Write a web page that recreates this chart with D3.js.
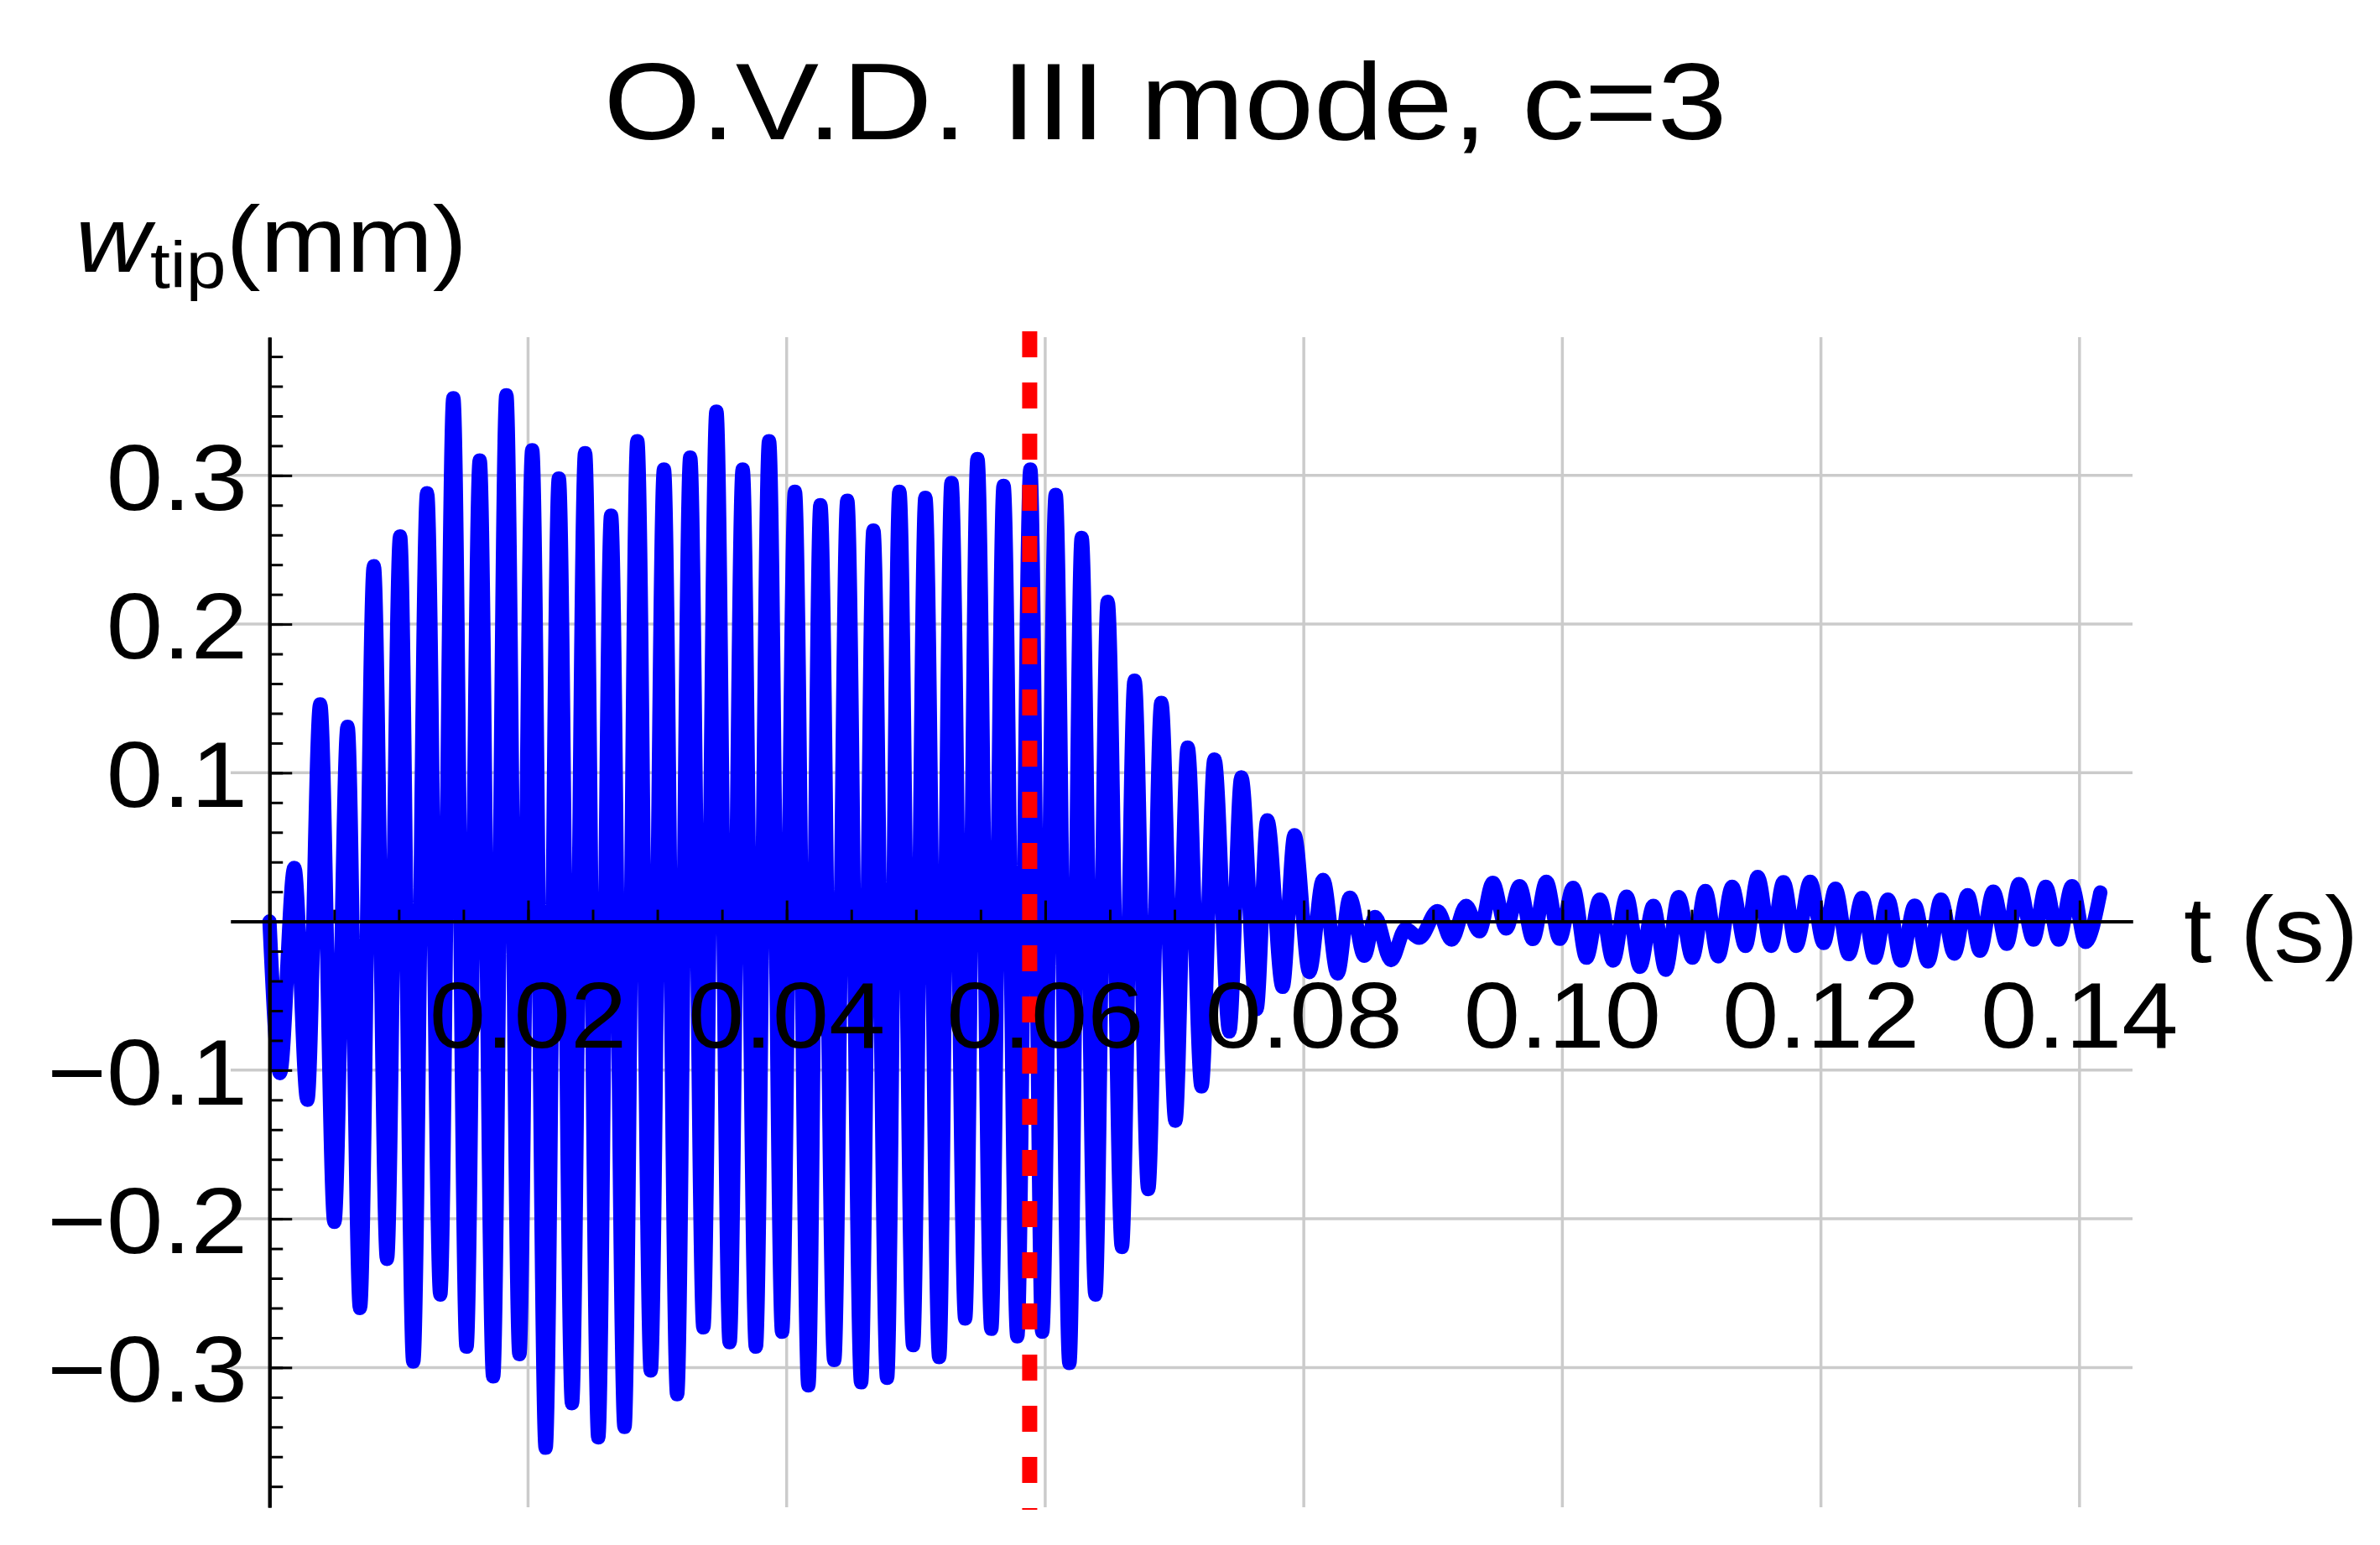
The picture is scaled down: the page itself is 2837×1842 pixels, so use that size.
<!DOCTYPE html>
<html>
<head>
<meta charset="utf-8">
<script src="https://cdn.jsdelivr.net/npm/d3@7"></script>
<style>
  body { margin: 0; background: #fff; }
  text { font-family: "Liberation Sans", Arial, sans-serif; fill: #000; }
</style>
</head>
<body>
<div id="main"></div>
<script>
const title = "O.V.D. III mode, c=3";
const xTicks = [0.02, 0.04, 0.06, 0.08, 0.10, 0.12, 0.14];
const xTickLabels = ["0.02", "0.04", "0.06", "0.08", "0.10", "0.12", "0.14"];
const yTicks = [-0.3, -0.2, -0.1, 0.1, 0.2, 0.3];
const yTickLabels = ["\u22120.3", "\u22120.2", "\u22120.1", "0.1", "0.2", "0.3"];
const switchTime = 0.0588; // red dashed marker

// tip deflection: [t (s), w (mm)]
const wTip = [
  [0, 0], [0.00081, -0.102], [0.00192, 0.036], [0.00293, -0.120], [0.00392, 0.146],
  [0.00502, -0.202], [0.00604, 0.131], [0.00700, -0.260], [0.00807, 0.239], [0.00909, -0.227],
  [0.01010, 0.259], [0.01112, -0.296], [0.01219, 0.288], [0.01321, -0.251], [0.01422, 0.352],
  [0.01524, -0.286], [0.01626, 0.310], [0.01730, -0.306], [0.01832, 0.354], [0.01933, -0.291],
  [0.02032, 0.317], [0.02136, -0.354], [0.02238, 0.298], [0.02340, -0.324], [0.02441, 0.315],
  [0.02543, -0.347], [0.02642, 0.273], [0.02746, -0.340], [0.02845, 0.323], [0.02949, -0.302],
  [0.03051, 0.304], [0.03153, -0.318], [0.03254, 0.312], [0.03356, -0.273], [0.03457, 0.343],
  [0.03559, -0.283], [0.03660, 0.304], [0.03762, -0.286], [0.03864, 0.323], [0.03965, -0.276],
  [0.04064, 0.289], [0.04168, -0.312], [0.04261, 0.280], [0.04368, -0.295], [0.04469, 0.283],
  [0.04576, -0.310], [0.04671, 0.263], [0.04777, -0.307], [0.04872, 0.289], [0.04978, -0.285],
  [0.05073, 0.285], [0.05180, -0.293], [0.05275, 0.295], [0.05381, -0.267], [0.05476, 0.311],
  [0.05583, -0.274], [0.05678, 0.293], [0.05784, -0.279], [0.05885, 0.304], [0.05977, -0.276],
  [0.06081, 0.287], [0.06187, -0.297], [0.06282, 0.258], [0.06388, -0.251], [0.06483, 0.215],
  [0.06593, -0.219], [0.06691, 0.162], [0.06797, -0.180], [0.06898, 0.147], [0.07007, -0.134],
  [0.07102, 0.117], [0.07209, -0.111], [0.07309, 0.109], [0.07424, -0.074], [0.07517, 0.097],
  [0.07634, -0.059], [0.07718, 0.068], [0.07836, -0.044], [0.07928, 0.058], [0.08043, -0.034],
  [0.08149, 0.028], [0.08261, -0.035], [0.08356, 0.016], [0.08468, -0.023], [0.08551, 0.003],
  [0.08675, -0.026], [0.08787, -0.005], [0.08894, -0.011], [0.09035, 0.007], [0.09143, -0.0122],
  [0.09255, 0.0105], [0.09358, -0.0066], [0.09462, 0.026], [0.09565, -0.0047], [0.09669, 0.0237],
  [0.09772, -0.0118], [0.09876, 0.0267], [0.09979, -0.0117], [0.10083, 0.0227], [0.10186, -0.0244],
  [0.10290, 0.0148], [0.10393, -0.0263], [0.10497, 0.0167], [0.10600, -0.0305], [0.10704, 0.0105],
  [0.10799, -0.0325], [0.10899, 0.0164], [0.11006, -0.0244], [0.11106, 0.0205], [0.11205, -0.0235],
  [0.11313, 0.0233], [0.11416, -0.0164], [0.11511, 0.0299], [0.11615, -0.0164], [0.11710, 0.0265],
  [0.11809, -0.0164], [0.11917, 0.0267], [0.12021, -0.0145], [0.12112, 0.022], [0.12215, -0.022],
  [0.12319, 0.0158], [0.12414, -0.0244], [0.12518, 0.0148], [0.12621, -0.0263], [0.12725, 0.0107],
  [0.12828, -0.0269], [0.12928, 0.0148], [0.13031, -0.0216], [0.13135, 0.0177], [0.13230, -0.0197],
  [0.13333, 0.0201], [0.13437, -0.015], [0.13532, 0.0252], [0.13644, -0.0122], [0.13739, 0.0233],
  [0.13839, -0.0122], [0.13942, 0.0237], [0.14046, -0.0137], [0.14161, 0.0195]
];

const width = 2837, height = 1842;
const fontSize = 112, stretch = 1.08;

const svg = d3.select("#main").append("svg")
  .attr("width", width)
  .attr("height", height);

const x = d3.scaleLinear().domain([-0.003, 0.1441]).range([275, 2542]);
const y = d3.scaleLinear().domain([-0.394, 0.393]).range([1797, 402]);

// grid
const grid = svg.append("g")
  .attr("stroke", "#cbcbcb")
  .attr("stroke-width", 3.5);
grid.selectAll(".gx").data(xTicks).enter().append("line")
  .attr("x1", d => x(d)).attr("x2", d => x(d))
  .attr("y1", y.range()[1]).attr("y2", y.range()[0]);
grid.selectAll(".gy").data(yTicks).enter().append("line")
  .attr("y1", d => y(d)).attr("y2", d => y(d))
  .attr("x1", x.range()[0]).attr("x2", x.range()[1]);

// signal
const line = d3.line()
  .x(d => x(d[0]))
  .y(d => y(d[1]))
  .curve(d3.curveMonotoneX);

svg.append("path")
  .datum(wTip)
  .attr("d", line)
  .attr("fill", "none")
  .attr("stroke", "#0000ff")
  .attr("stroke-width", 17)
  .attr("stroke-linejoin", "round")
  .attr("stroke-linecap", "round");

// axes
function styleAxis(g, w) {
  g.select(".domain").attr("stroke", "#000").attr("stroke-width", 4);
  g.selectAll(".tick line").attr("stroke", "#000").attr("stroke-width", w);
  g.selectAll(".tick text").remove();
}

svg.append("g")
  .attr("transform", `translate(0,${y(0)})`)
  .call(d3.axisTop(x).tickValues(d3.range(0.005, 0.1441, 0.005)).tickSize(14).tickSizeOuter(0))
  .call(g => styleAxis(g, 3));
svg.append("g")
  .attr("transform", `translate(0,${y(0)})`)
  .call(d3.axisTop(x).tickValues(xTicks).tickSize(25).tickSizeOuter(0))
  .call(g => styleAxis(g, 3));

svg.append("g")
  .attr("transform", `translate(${x(0)},0)`)
  .call(d3.axisRight(y).tickValues(d3.range(-0.38, 0.381, 0.02)).tickSize(16).tickSizeOuter(0))
  .call(g => styleAxis(g, 3));
svg.append("g")
  .attr("transform", `translate(${x(0)},0)`)
  .call(d3.axisRight(y).tickValues(yTicks).tickSize(27).tickSizeOuter(0))
  .call(g => styleAxis(g, 3));

// red dashed marker
svg.append("line")
  .attr("x1", x(switchTime)).attr("x2", x(switchTime))
  .attr("y1", 395).attr("y2", 1800)
  .attr("stroke", "#ff0000")
  .attr("stroke-width", 18)
  .attr("stroke-dasharray", "31 30");

// tick labels
svg.selectAll(".xl").data(xTicks).enter().append("text")
  .attr("transform", d => `translate(${x(d)},1249) scale(${stretch},1)`)
  .attr("text-anchor", "middle")
  .attr("font-size", fontSize)
  .text((d, i) => xTickLabels[i]);

svg.selectAll(".yl").data(yTicks).enter().append("text")
  .attr("transform", d => `translate(295,${y(d) + 41}) scale(${stretch},1)`)
  .attr("text-anchor", "end")
  .attr("font-size", fontSize)
  .text((d, i) => yTickLabels[i]);

// title
svg.append("text")
  .attr("transform", `translate(1389,166) scale(1.145,1)`)
  .attr("text-anchor", "middle")
  .attr("font-size", 130)
  .text(title);

// axis labels
const yl = svg.append("text")
  .attr("transform", `translate(90,324) scale(1.1,1)`)
  .attr("font-size", fontSize);
yl.append("tspan").attr("font-style", "italic").text("w");
yl.append("tspan").attr("font-size", 78).attr("dy", 19).text("tip");
yl.append("tspan").attr("dy", -19).text("(mm)");

svg.append("text")
  .attr("transform", `translate(2603,1147) scale(${stretch},1)`)
  .attr("font-size", fontSize)
  .text("t (s)");
</script>
</body>
</html>
